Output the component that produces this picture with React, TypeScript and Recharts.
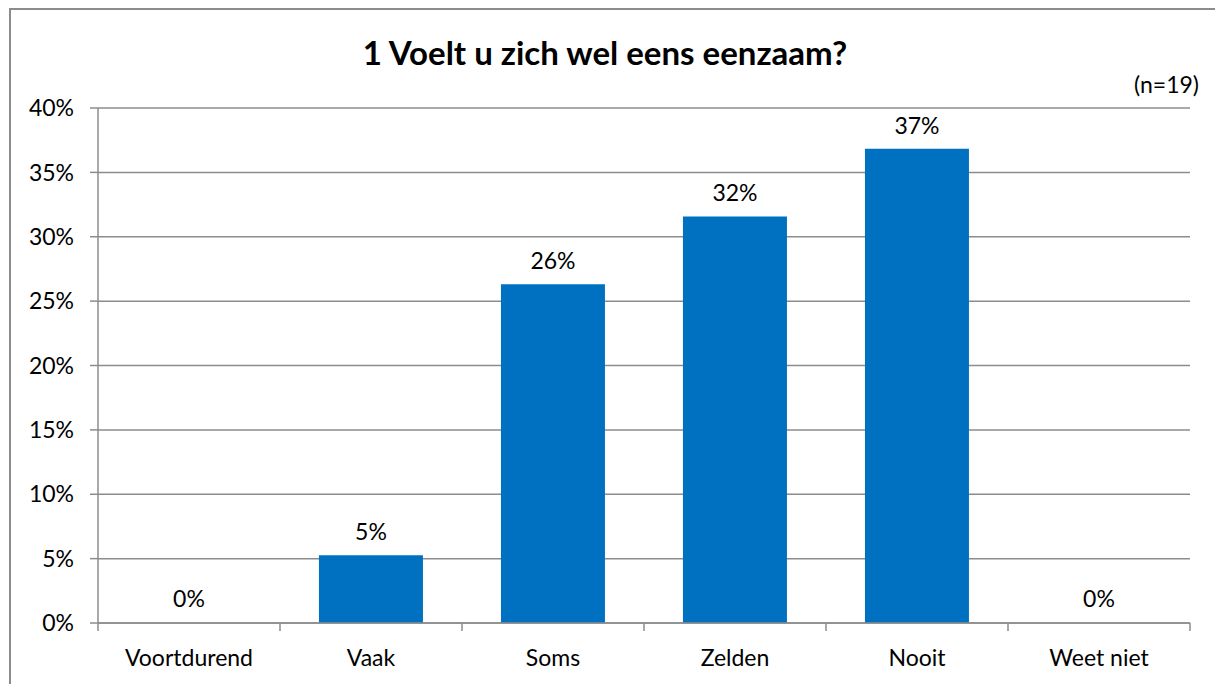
import React from 'react'
import { BarChart, Bar, XAxis, YAxis, CartesianGrid, LabelList, Cell } from 'recharts'

const categories = ['Voortdurend', 'Vaak', 'Soms', 'Zelden', 'Nooit', 'Weet niet']
const percentages = [0, 5.26, 26.32, 31.58, 36.84, 0]
const yTicks = [0, 5, 10, 15, 20, 25, 30, 35, 40]

const data = categories.map((name, i) => ({ name, value: percentages[i] }))

const W = 1215
const H = 684
const MARGIN = { top: 108, right: 25, bottom: 0, left: 0 }
const Y_AXIS_W = 98
const X_AXIS_H = 61
const FONT = 'Lato, "Open Sans", sans-serif'
const GRID = '#8c8c8c'
const BLUE = '#0070C0'
const FS = 23

const bandWidth = (W - MARGIN.left - MARGIN.right - Y_AXIS_W) / categories.length

function CategoryTick(props: any) {
  const { x, y, payload, index } = props
  const last = index === categories.length - 1
  return (
    <g>
      <line x1={x - bandWidth / 2} x2={x - bandWidth / 2} y1={y - 8} y2={y} stroke={GRID} strokeWidth={1.5} />
      {last && (
        <line x1={x + bandWidth / 2} x2={x + bandWidth / 2} y1={y - 8} y2={y} stroke={GRID} strokeWidth={1.5} />
      )}
      <text x={x} y={y + 35} textAnchor="middle" fontSize={FS} fill="#000" fontFamily={FONT}>
        {payload.value}
      </text>
    </g>
  )
}

export default function App() {
  return (
    <div style={{ position: 'absolute', left: 0, top: 0, width: W, height: H, background: '#fff', overflow: 'hidden', fontFamily: FONT }}>
      <div style={{ position: 'absolute', left: 9, top: 8, width: W, height: H, borderLeft: `2px solid ${GRID}`, borderTop: `2px solid ${GRID}` }} />
      <div style={{ position: 'absolute', left: 0, width: W - 5, top: 32, textAlign: 'center', fontSize: 33, fontWeight: 700, color: '#000' }}>
        1 Voelt u zich wel eens eenzaam?
      </div>
      <div style={{ position: 'absolute', right: 16, top: 70, fontSize: FS, color: '#000' }}>(n=19)</div>
      <div style={{ position: 'absolute', left: 0, top: 0 }}>
        <BarChart width={W} height={H} data={data} margin={MARGIN} barCategoryGap="21.4%">
          <CartesianGrid vertical={false} stroke={GRID} strokeWidth={1.5} />
          <XAxis
            dataKey="name"
            height={X_AXIS_H}
            axisLine={{ stroke: GRID, strokeWidth: 1.5 }}
            tickLine={false}
            tick={<CategoryTick />}
            interval={0}
          />
          <YAxis
            width={Y_AXIS_W}
            domain={[0, 40]}
            ticks={yTicks}
            interval={0}
            tickFormatter={(v: number) => `${v}%`}
            axisLine={{ stroke: GRID, strokeWidth: 1.5 }}
            tickLine={{ stroke: GRID, strokeWidth: 1.5 }}
            tickSize={8}
            tickMargin={16}
            tick={{ fontSize: FS, fill: '#000', fontFamily: FONT }}
          />
          <Bar dataKey="value" fill={BLUE} minPointSize={1} isAnimationActive={false}>
            {data.map((d, i) => (
              <Cell key={i} fill={d.value > 0 ? BLUE : 'transparent'} />
            ))}
            <LabelList
              dataKey="value"
              position="top"
              offset={15}
              formatter={(v: any) => `${Math.round(Number(v))}%`}
              style={{ fontSize: FS, fill: '#000', fontFamily: FONT }}
            />
          </Bar>
        </BarChart>
      </div>
    </div>
  )
}
